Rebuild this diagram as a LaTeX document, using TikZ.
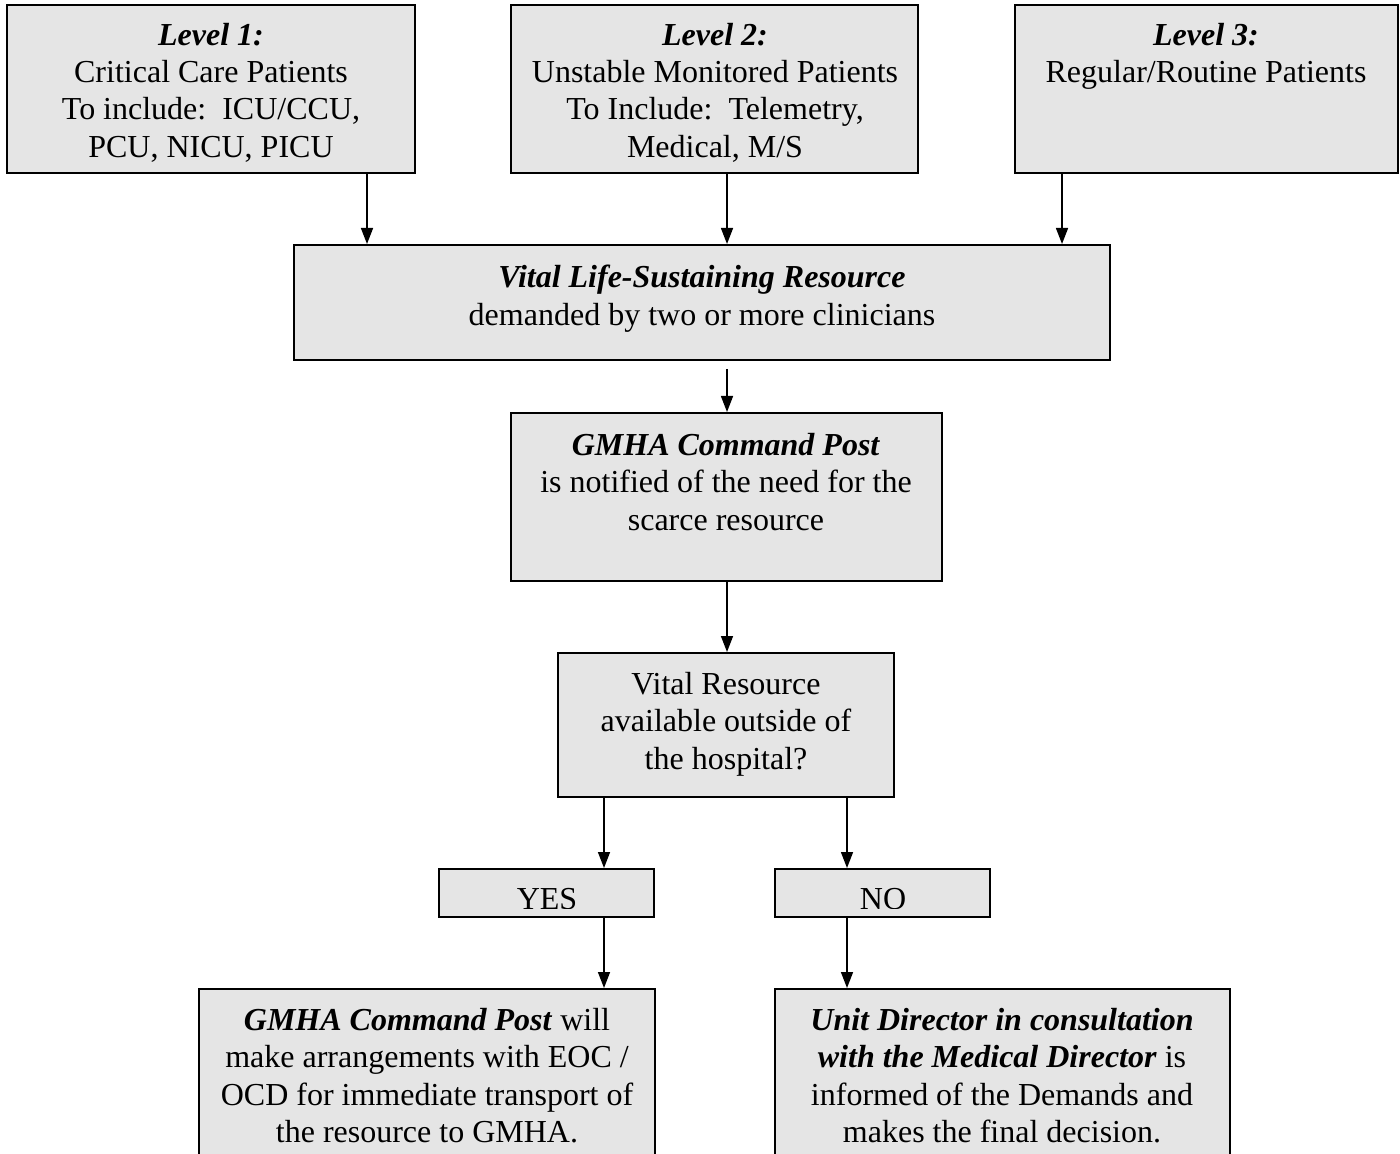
\documentclass[tikz,border=0pt]{standalone}
\usepackage{fontspec}
\setmainfont{Liberation Serif}
\usetikzlibrary{fit,arrows.meta}
\begin{document}
\begin{tikzpicture}[x=0.5pt,y=-0.5pt,
  box/.style={draw=black,line width=1pt,fill=gray!20,inner sep=0pt},
  txt/.style={inner sep=0pt,align=center,anchor=north,font=\fontsize{16}{18.6}\selectfont},
  arr/.style={line width=0.75pt,-{Triangle[width=6pt,length=8pt]}}]
\useasboundingbox (0,0) rectangle (1400,1154);
\clip (0,0) rectangle (1400,1154);
% boxes
\node[box,fit={(7,5)(415,173)}] (l1) {};
\node[box,fit={(511,5)(918,173)}] (l2) {};
\node[box,fit={(1015,5)(1398,173)}] (l3) {};
\node[box,fit={(294,245)(1110,360)}] (vital) {};
\node[box,fit={(511,413)(942,581)}] (gmha) {};
\node[box,fit={(558,653)(894,797)}] (avail) {};
\node[box,fit={(439,869)(654,917)}] (yes) {};
\node[box,fit={(775,869)(990,917)}] (no) {};
\node[box,fit={(199,989)(655,1180)}] (arrange) {};
\node[box,fit={(775,989)(1230,1180)}] (decide) {};
% texts
\node[txt] (l1t) at (211,23) {\textbf{\textit{Level 1:}}\\Critical Care Patients\\To include:\ \ ICU/CCU,\\PCU, NICU, PICU};
\node[txt] (l2t) at (715,23) {\textbf{\textit{Level 2:}}\\Unstable Monitored Patients\\To Include:\ \ Telemetry,\\Medical, M/S};
\node[txt] (l3t) at (1206,23) {\textbf{\textit{Level 3:}}\\Regular/Routine Patients};
\node[txt] (vitalt) at (702,265) {\textbf{\textit{Vital Life-Sustaining Resource}}\\demanded by two or more clinicians};
\node[txt] (gmhat) at (726,433) {\textbf{\textit{GMHA Command Post}}\\is notified of the need for the\\scarce resource};
\node[txt] (availt) at (726,672) {Vital Resource\\available outside of\\the hospital?};
\begin{scope}
\clip (yes.north west) rectangle ([yshift=5pt]yes.south east);
\node[txt] (yest) at (547,888) {YES};
\end{scope}
\begin{scope}
\clip (no.north west) rectangle ([yshift=5pt]no.south east);
\node[txt] (not) at (883,888) {NO};
\end{scope}
\node[txt] (arranget) at (427,1008) {\textbf{\textit{GMHA Command Post}} will\\make arrangements with EOC /\\OCD for immediate transport of\\the resource to GMHA.};
\node[txt] (decidet) at (1002,1008) {\textbf{\textit{Unit Director in consultation}}\\\textbf{\textit{with the Medical Director}} is\\informed of the Demands and\\makes the final decision.};
% connector x positions
\coordinate (c1) at (367,0);
\coordinate (c2) at (727,0);
\coordinate (c3) at (1062,0);
\coordinate (cy) at (604,0);
\coordinate (cn) at (847,0);
% connectors
\draw[arr] (l1.south -| c1) -- (vital.north -| c1);
\draw[arr] (l2.south -| c2) -- (vital.north -| c2);
\draw[arr] (l3.south -| c3) -- (vital.north -| c3);
\draw[arr,shorten <=4pt] (vital.south -| c2) -- (gmha.north -| c2);
\draw[arr] (gmha.south -| c2) -- (avail.north -| c2);
\draw[arr] (avail.south -| cy) -- (yes.north -| cy);
\draw[arr] (avail.south -| cn) -- (no.north -| cn);
\draw[arr] (yes.south -| cy) -- (arrange.north -| cy);
\draw[arr] (no.south -| cn) -- (decide.north -| cn);
\end{tikzpicture}
\end{document}
